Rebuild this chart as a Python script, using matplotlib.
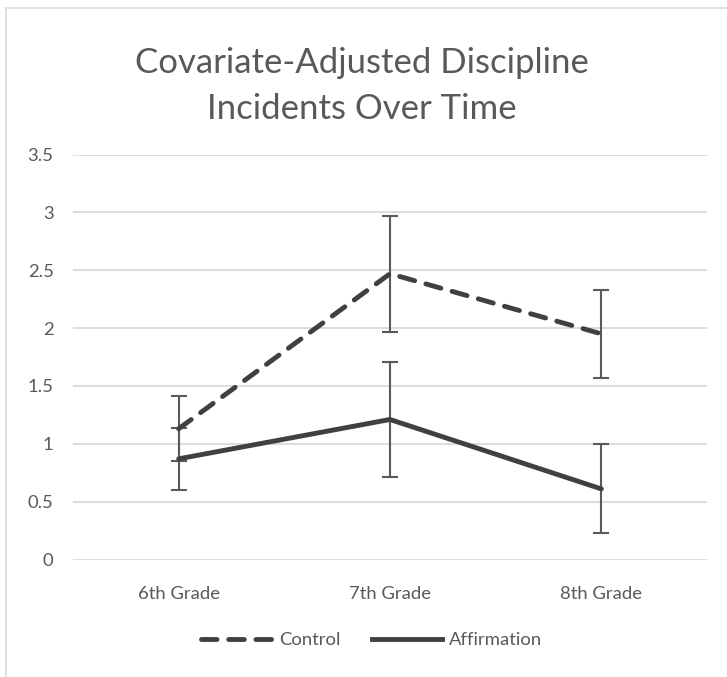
import matplotlib
matplotlib.use("Agg")
import matplotlib.pyplot as plt
from matplotlib.lines import Line2D
import matplotlib.patches as mpatches

categories = ["6th Grade", "7th Grade", "8th Grade"]
control = [1.13, 2.47, 1.95]
control_err = [0.28, 0.50, 0.38]
affirmation = [0.87, 1.21, 0.61]
affirmation_err = [0.27, 0.50, 0.385]
yticks = [0, 0.5, 1, 1.5, 2, 2.5, 3, 3.5]
ytick_labels = ["0", "0.5", "1", "1.5", "2", "2.5", "3", "3.5"]
title = "Covariate-Adjusted Discipline\nIncidents Over Time"

plt.rcParams['font.family'] = ['Lato', 'DejaVu Sans']
TXT = "#595959"
LINE = "#404040"
ERR = "#5a5a5a"

fig = plt.figure(figsize=(7.27, 6.77), dpi=100)
# chart border (partially cropped on right/bottom)
fig.patches.append(mpatches.Rectangle((6/727, -0.1), 1.2, 1 - 8/677 + 0.1,
                                      transform=fig.transFigure, fill=False,
                                      edgecolor="#d9d9d9", linewidth=1.2))

ax = fig.add_axes([73/727, 1 - 559.5/677, (707 - 73)/727, (559.5 - 154.5)/677])
x = list(range(len(categories)))

ax.errorbar(x, control, yerr=control_err, fmt='none', ecolor=ERR, elinewidth=1.5,
            capsize=6, capthick=1.5, zorder=2)
ax.errorbar(x, affirmation, yerr=affirmation_err, fmt='none', ecolor=ERR, elinewidth=1.5,
            capsize=6, capthick=1.5, zorder=2)
ax.plot(x, control, color=LINE, linewidth=3.5, linestyle=(0, (3.2, 2.4)),
        dash_capstyle='round', solid_capstyle='round', zorder=3, label="Control")
ax.plot(x, affirmation, color=LINE, linewidth=3.5, solid_capstyle='round',
        solid_joinstyle='miter', zorder=3, label="Affirmation")

ax.set_xlim(-0.5, 2.5)
ax.set_ylim(0, 3.5)
ax.set_yticks(yticks)
ax.set_yticklabels(ytick_labels)
ax.set_xticks(x)
ax.set_xticklabels(categories)
ax.tick_params(axis='y', length=0, pad=14, labelsize=13.3, labelcolor=TXT)
ax.tick_params(axis='x', length=0, pad=19, labelsize=13.3, labelcolor=TXT)
ax.grid(axis='y', color="#d9d9d9", linewidth=1.3)
ax.set_axisbelow(True)
for s in ax.spines.values():
    s.set_visible(False)

fig.text(0.498, 1 - 86/677, title, ha='center', va='center', fontsize=25,
         color=TXT, linespacing=1.55)

handles = [Line2D([], [], color=LINE, linewidth=3.5, linestyle=(0, (3.2, 2.4)),
                  dash_capstyle='round'),
           Line2D([], [], color=LINE, linewidth=3.5)]
fig.legend(handles, ["Control", "Affirmation"], loc='center',
           bbox_to_anchor=(372/727, 1 - 640/677), ncol=2, frameon=False,
           fontsize=13.3, labelcolor=TXT, handlelength=3.8, columnspacing=1.7,
           handletextpad=0.4)

fig.savefig("out.png", dpi=100)
